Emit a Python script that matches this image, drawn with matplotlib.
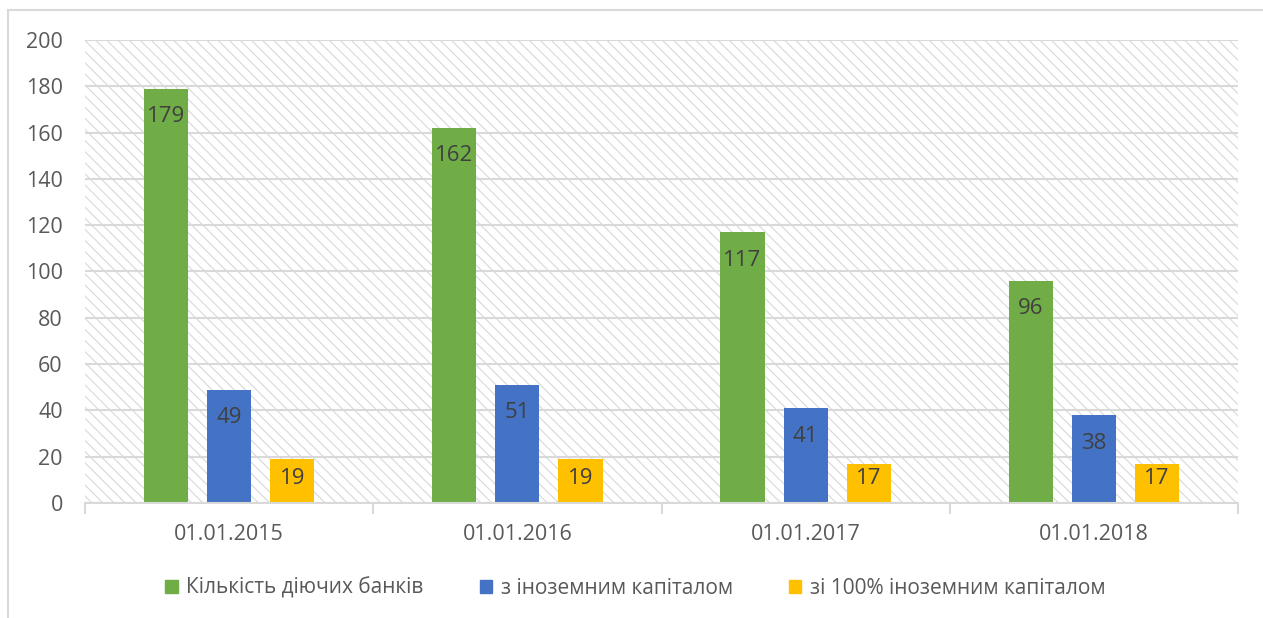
import matplotlib
matplotlib.use("Agg")
import matplotlib.pyplot as plt
from matplotlib.patches import Rectangle
from matplotlib.lines import Line2D
import numpy as np

plt.rcParams['font.family'] = ['Open Sans', 'DejaVu Sans']
plt.rcParams['hatch.linewidth'] = 0.8

categories = ["01.01.2015", "01.01.2016", "01.01.2017", "01.01.2018"]
series_names = ["Кількість діючих банків", "з іноземним капіталом", "зі 100% іноземним капіталом"]
total_banks = [179, 162, 117, 96]
foreign_capital = [49, 51, 41, 38]
full_foreign = [19, 19, 17, 17]
colors = ["#70AD47", "#4472C4", "#FFC000"]
yticks = [0, 20, 40, 60, 80, 100, 120, 140, 160, 180, 200]

W, H = 1263, 618
fig = plt.figure(figsize=(W / 100, H / 100), dpi=100)
ax_h_px = 503 - 40
ax = fig.add_axes([85 / W, (H - 503) / H, (1238 - 85) / W, ax_h_px / H])

ax.set_facecolor('white')
bg = Rectangle((0, 0), 1, 1, transform=ax.transAxes, fill=False, hatch='\\\\\\',
               edgecolor='#D8D8D8', linewidth=0, zorder=0)
ax.add_patch(bg)

ymax = 200
px_per_unit = ax_h_px / ymax
x = np.arange(len(categories))
offsets = [-0.219, 0.0, 0.219]
width = 0.153
for vals, off, c, name in zip([total_banks, foreign_capital, full_foreign], offsets, colors, series_names):
    bars = ax.bar(x + off, vals, width, color=c, label=name, zorder=3)
    for b, v in zip(bars, vals):
        h_px = v * px_per_unit
        off_px = min(28, h_px - 25)
        ax.text(b.get_x() + b.get_width() / 2, v - off_px / px_per_unit, str(v), ha='center',
                va='center', fontsize=16, color='#404040', zorder=4)

ax.set_xlim(-0.5, len(categories) - 0.5)
ax.set_ylim(0, ymax)
ax.set_yticks(yticks)
ax.yaxis.grid(True, color='#D9D9D9', linewidth=1.5, zorder=1)
ax.set_axisbelow(True)
for s in ['left', 'right', 'top']:
    ax.spines[s].set_visible(False)
ax.spines['bottom'].set_color('#D9D9D9')
ax.spines['bottom'].set_linewidth(1.5)
ax.spines['bottom'].set_zorder(5)

ax.set_xticks(x)
ax.set_xticklabels(categories)
ax.tick_params(axis='x', length=0, pad=15, labelsize=15.5, labelcolor='#595959')
ax.set_xticks(np.arange(-0.5, len(categories)), minor=True)
ax.tick_params(axis='x', which='minor', length=8, width=1.5, color='#D9D9D9')
ax.tick_params(axis='y', length=0, pad=16, labelsize=15.5, labelcolor='#595959')

handles = [Rectangle((0, 0), 1, 1, color=c) for c in colors]
leg = fig.legend(handles, series_names, loc='center', bbox_to_anchor=(0.503, 1 - 588 / H),
                 ncol=3, frameon=False, fontsize=15, handlelength=0.6, handleheight=0.6,
                 handletextpad=0.4, columnspacing=2.7, labelcolor='#595959')

fig.add_artist(Line2D([8 / W, 1], [1 - 10 / H, 1 - 10 / H], color='#D9D9D9', linewidth=1.5))
fig.add_artist(Line2D([8 / W, 8 / W], [0, 1 - 10 / H], color='#D9D9D9', linewidth=1.5))

fig.savefig("out.png", dpi=100, facecolor='white')
